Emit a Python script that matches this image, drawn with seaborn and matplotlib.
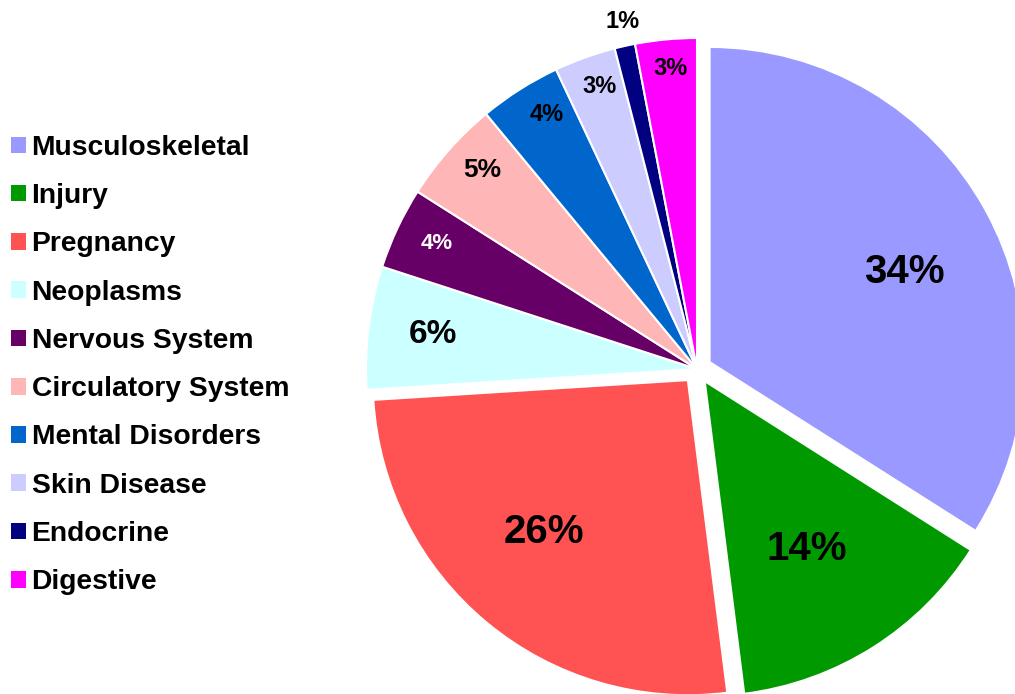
import numpy as np
import matplotlib
matplotlib.use("Agg")
import matplotlib.pyplot as plt
from matplotlib.patches import Patch
import seaborn as sns

# Share of cases by diagnosis group (percent)
categories = ["Musculoskeletal", "Injury", "Pregnancy", "Neoplasms", "Nervous System",
              "Circulatory System", "Mental Disorders", "Skin Disease", "Endocrine", "Digestive"]
shares = [34, 14, 26, 6, 4, 5, 4, 3, 1, 3]

colors = ["#9999FF", "#009900", "#FF5252", "#CCFFFF", "#660066",
          "#FFB6B6", "#0066CC", "#CCCCFF", "#000080", "#FF00FF"]
explode = [0.0435, 0.0435, 0.0435, 0, 0, 0, 0, 0, 0, 0]
# pulled-out slices are drawn slightly smaller
slice_radius = [0.952, 0.952, 0.952, 1, 1, 1, 1, 1, 1, 1]

# label placement: radial distance (in radii), angular nudge (deg), size, colour
label_r = [0.695, 0.63, 0.67, 0.806, 0.875, 0.89, 0.90, 0.91, 1.08, 0.92]
label_nudge = [-3.0, -0.5, -4.1, -0.8, -1.0, -1.8, -2.1, -0.9, -0.6, -0.5]
label_size = [29, 29, 29, 24, 16, 19, 17, 17, 17, 17]
label_color = ["black", "black", "black", "black", "white",
               "black", "black", "black", "black", "black"]

sns.set_theme(style="white")
plt.rcParams["font.family"] = ["Liberation Sans", "DejaVu Sans"]

W, H, DPI = 1015, 694, 100
fig = plt.figure(figsize=(W / DPI, H / DPI), dpi=DPI)
ax = fig.add_axes([0, 0, 1, 1])

wedges, _ = ax.pie(shares, colors=colors, explode=explode, startangle=90,
                   counterclock=False, radius=1.0,
                   wedgeprops=dict(edgecolor="white", linewidth=1.5))
for w, r in zip(wedges, slice_radius):
    w.set_radius(r)

for w, v, r, dth, fs, tc in zip(wedges, shares, label_r, label_nudge,
                                label_size, label_color):
    mid = np.deg2rad((w.theta1 + w.theta2) / 2 + dth)
    ax.text(r * np.cos(mid), r * np.sin(mid) - 0.008, f"{v}%", ha="center", va="center",
            fontsize=fs, fontweight="bold", color=tc)

# pie centre sits at (697, 369) px with a 331 px radius
cx, cy, R = 697, 369, 331
ax.set_aspect("auto")
ax.set_xlim(-cx / R, (W - cx) / R)
ax.set_ylim(-(H - cy) / R, cy / R)
ax.axis("off")

handles = [Patch(facecolor=c, edgecolor="none") for c in colors]
fig.legend(handles, categories, loc="center left", bbox_to_anchor=(0.0108, 0.474),
           frameon=False, prop=dict(weight="bold", size=20.3), labelcolor="black",
           handlelength=0.53, handleheight=0.53, handletextpad=0.2,
           labelspacing=0.79, borderpad=0, borderaxespad=0)

fig.savefig("out.png", dpi=DPI, facecolor="white")
